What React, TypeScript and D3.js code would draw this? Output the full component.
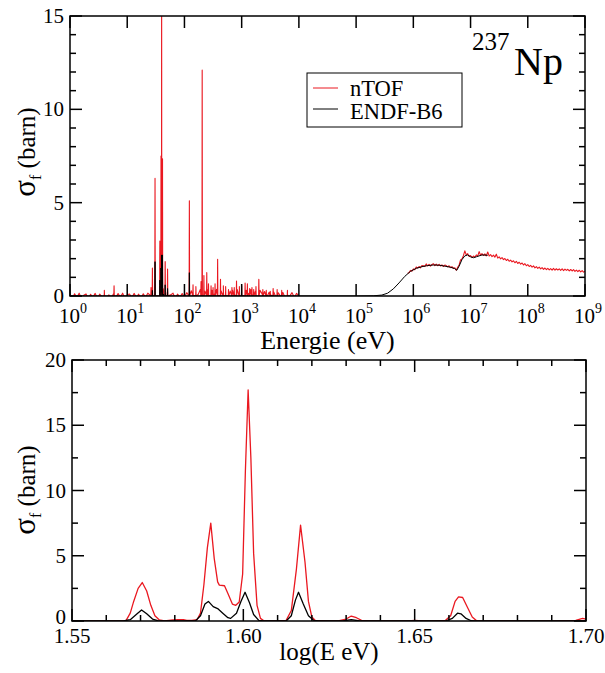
import React from "react";
import * as d3 from "d3";

const W = 605;
const H = 673;
const FONT = "'Liberation Serif', 'Times New Roman', serif";
const RED = "#ea1820";

// ---------- Tick definitions ----------
const topXExponents = [0, 1, 2, 3, 4, 5, 6, 7, 8, 9];
const topYMajor = [0, 5, 10, 15];
const topYMinor = [1, 2, 3, 4, 6, 7, 8, 9, 11, 12, 13, 14];
const botXMajor = [1.55, 1.6, 1.65, 1.7];
const botXMinor = [1.56, 1.57, 1.58, 1.59, 1.61, 1.62, 1.63, 1.64, 1.66, 1.67, 1.68, 1.69];
const botYMajor = [0, 5, 10, 15, 20];
const botYMinor = [2.5, 7.5, 12.5, 17.5];
const botXLabels = ["1.55", "1.60", "1.65", "1.70"];

// ---------- Data (log10 E in eV, sigma_f in barn) ----------
// nTOF noisy baseline from 10^0 to 10^4, one value every 0.04 in log10(E)
const ntofNoiseLow = [
  0.08, -0.15, 0.12, -0.08, 0.15, -0.13, 0.04, 0.11, -0.14, 0.09,
  -0.07, 0.14, -0.13, 0.1, -0.05, 0.16, -0.11, 0.06, -0.15, 0.12,
  -0.09, 0.13, -0.06, 0.15, -0.14, 0.07, 0.11, -0.1, 0.14, -0.08,
  0.1, -0.14, 0.12, -0.07, 0.15, -0.11, 0.09, -0.05, 0.13, -0.12,
  0.08, -0.09, 0.14, -0.11, 0.06, 0.15, -0.13, 0.1, -0.07, 0.13,
  -0.06, 0.18, 0.0, 0.28, 0.04, 0.32, 0.08, 0.36, 0.05, 0.26,
  0.34, 0.02, 0.3, 0.1, 0.36, 0.03, 0.28, 0.14, 0.33, 0.0,
  0.26, 0.32, 0.05, 0.36, 0.1, 0.28, 0.02, 0.31, 0.14, 0.34,
  0.06, 0.26, -0.02, 0.3, 0.1, 0.24, -0.05, 0.2, 0.04, 0.22,
  -0.08, 0.17, -0.02, 0.19, -0.1, 0.15, 0.0, 0.18, -0.08, 0.14, 0.0,
];
const noiseStartLog = 0;
const noiseStepLog = 0.04;

// nTOF isolated resonances in the top panel [log10 E, peak sigma]
const ntofResonances: [number, number][] = [
  [0.6, 0.3], [0.77, 0.55], [1.416, 0.45], [1.44, 1.5], [1.486, 6.3], [1.705, 1.45],
  [2.086, 5.1], [2.15, 0.6], [2.2, 0.5], [2.29, 0.77], [2.31, 12.1], [2.34, 1.1],
  [2.39, 1.25], [2.42, 0.65], [2.465, 0.55], [2.5, 0.45], [2.535, 0.65], [2.58, 1.97],
  [2.63, 0.9], [2.68, 0.55], [2.72, 0.5], [2.77, 0.35], [2.83, 0.45], [2.87, 0.45],
  [2.91, 0.8], [2.96, 0.5], [3.0, 0.55], [3.06, 0.7], [3.1, 0.65], [3.14, 0.4],
  [3.18, 0.45], [3.21, 0.35], [3.25, 0.5], [3.3, 0.9], [3.37, 0.35], [3.43, 0.3],
  [3.5, 0.25], [3.55, 0.4], [3.62, 0.35], [3.7, 0.3], [3.8, 0.3],
];

// ENDF-B6 isolated resonances in the top panel
const endfResonances: [number, number][] = [
  [1.44, 0.3], [1.486, 1.84], [1.705, 0.4], [2.086, 1.25],
];

// nTOF high-energy region, one value every 0.025 in log10(E) from 5.90 to 9.00
const ntofHigh = [
  1.22, 1.25, 1.37, 1.33, 1.45, 1.41, 1.55, 1.5, 1.58, 1.51,
  1.63, 1.62, 1.58, 1.72, 1.61, 1.69, 1.6, 1.69, 1.73, 1.63,
  1.71, 1.62, 1.7, 1.61, 1.67, 1.58, 1.66, 1.63, 1.56, 1.62,
  1.52, 1.57, 1.48, 1.51, 1.38, 1.54, 1.66, 1.93, 1.99, 2.16,
  2.42, 2.2, 2.27, 2.12, 2.17, 2.06, 2.14, 2.08, 2.2, 2.14,
  2.38, 2.18, 2.27, 2.17, 2.26, 2.15, 2.36, 2.14, 2.22, 2.11,
  2.19, 2.08, 2.24, 2.03, 2.1, 1.99, 2.06, 1.95, 2.01, 1.9,
  1.97, 1.86, 1.92, 1.83, 1.89, 1.78, 1.86, 1.74, 1.81, 1.71,
  1.77, 1.66, 1.73, 1.62, 1.68, 1.58, 1.64, 1.55, 1.61, 1.51,
  1.57, 1.48, 1.55, 1.45, 1.52, 1.43, 1.5, 1.41, 1.48, 1.4,
  1.47, 1.39, 1.48, 1.38, 1.46, 1.39, 1.45, 1.37, 1.46, 1.36,
  1.44, 1.37, 1.43, 1.35, 1.42, 1.34, 1.41, 1.32, 1.39, 1.31,
  1.38, 1.29, 1.36, 1.28, 1.33,
];
const highStartLog = 5.9;
const highStepLog = 0.025;

// ENDF-B6 smooth high-energy cross section
const endfHighLog = [4.0, 5.0, 5.3, 5.45, 5.55, 5.65, 5.75, 5.85, 5.95, 6.05, 6.15, 6.25, 6.35, 6.45, 6.55, 6.65, 6.72, 6.76, 6.8, 6.85, 6.9, 6.95, 7.0, 7.05, 7.1, 7.2, 7.3];
const endfHighSigma = [0, 0, 0.01, 0.05, 0.15, 0.38, 0.7, 1.05, 1.32, 1.48, 1.57, 1.63, 1.66, 1.65, 1.6, 1.54, 1.47, 1.38, 1.6, 1.95, 2.15, 2.2, 2.1, 2.05, 2.1, 2.2, 2.18];

// Zoom region (bottom panel): nTOF
const ntofZoomLog = [
  1.55, 1.565, 1.5658, 1.567, 1.568, 1.5693, 1.5705, 1.5718, 1.573, 1.5742, 1.5755, 1.577,
  1.5795, 1.581, 1.5825, 1.5835, 1.585, 1.5865, 1.5875, 1.5885, 1.5895, 1.5905, 1.5915,
  1.5925, 1.593, 1.5945, 1.5955, 1.5968, 1.5978, 1.5988, 1.5998, 1.6006, 1.6014, 1.6022,
  1.603, 1.604, 1.605, 1.606, 1.61, 1.6125, 1.614, 1.6155, 1.6167, 1.618, 1.619, 1.62,
  1.621, 1.625, 1.628, 1.63, 1.6315, 1.633, 1.6345, 1.637, 1.648, 1.65, 1.6525, 1.656,
  1.659, 1.6605, 1.6618, 1.6628, 1.664, 1.6655, 1.6668, 1.668, 1.672, 1.69, 1.694, 1.697,
  1.699, 1.7,
];
const ntofZoomSigma = [
  0, 0, 0.05, 0.6, 1.5, 2.5, 2.95, 2.3, 1.2, 0.4, 0.08, 0,
  0.08, 0.1, 0.1, 0.05, 0.04, 0.1, 0.6, 2.8, 5.6, 7.5, 4.8,
  3.0, 2.75, 2.7, 2.1, 1.3, 1.2, 1.45, 3.6, 11.5, 17.7, 12.5,
  5.2, 1.2, 0.2, 0.02, 0, 0.05, 0.8, 4.0, 7.35, 4.5, 1.5, 0.3,
  0.05, 0, 0.02, 0.15, 0.38, 0.25, 0.05, 0, 0, 0.05, 0, 0,
  0.05, 0.4, 1.5, 1.85, 1.8, 1.0, 0.3, 0.03, 0, 0, 0.03, 0.05,
  0.2, 0.15,
];

// Zoom region (bottom panel): ENDF-B6
const endfZoomLog = [
  1.55, 1.565, 1.567, 1.569, 1.5703, 1.5718, 1.5735, 1.575, 1.586, 1.5875, 1.5888, 1.5898,
  1.5912, 1.5925, 1.594, 1.5955, 1.5963, 1.598, 1.5993, 1.6005, 1.6018, 1.603, 1.6045,
  1.606, 1.6125, 1.614, 1.6152, 1.6161, 1.6175, 1.619, 1.6205, 1.622, 1.629, 1.6315,
  1.634, 1.659, 1.661, 1.6625, 1.6635, 1.665, 1.6665, 1.668, 1.7,
];
const endfZoomSigma = [
  0, 0, 0.1, 0.55, 0.85, 0.55, 0.15, 0.02, 0, 0.4, 1.3, 1.5,
  1.1, 0.95, 0.6, 0.25, 0.2, 0.6, 1.5, 2.2, 1.4, 0.5, 0.05,
  0, 0, 0.4, 1.6, 2.2, 1.3, 0.4, 0.05, 0, 0, 0.1,
  0, 0, 0.2, 0.6, 0.55, 0.2, 0.02, 0, 0,
];

// ---------- Series assembly ----------
type P = [number, number];
const SPIKE_HALF = 0.004;

function spikePoints(list: [number, number][]): P[] {
  const out: P[] = [];
  list.forEach(([x, y]) => {
    out.push([x - SPIKE_HALF, 0], [x, y], [x + SPIKE_HALF, 0]);
  });
  return out;
}

const zoomNtof: P[] = ntofZoomLog.map((x, i) => [x, ntofZoomSigma[i]]);
const zoomEndf: P[] = endfZoomLog.map((x, i) => [x, endfZoomSigma[i]]);

const ntofTopLow: P[] = [
  ...ntofNoiseLow
    .map((v, i) => [noiseStartLog + i * noiseStepLog, v] as P)
    .filter(([x]) => x < 1.4 || x > 1.72),
  ...spikePoints(ntofResonances),
  ...zoomNtof,
].sort((a, b) => a[0] - b[0]);

const ntofTopHigh: P[] = ntofHigh.map((v, i) => [highStartLog + i * highStepLog, v]);

const endfTop: P[] = [
  [0, 0] as P,
  ...spikePoints(endfResonances),
  ...zoomEndf,
  ...endfHighLog.map((x, i) => [x, endfHighSigma[i]] as P),
].sort((a, b) => a[0] - b[0]);

// ---------- Layout ----------
const top = { x0: 70, x1: 585, y0: 16, y1: 296 };
const bot = { x0: 72, x1: 586, y0: 360, y1: 621 };

const xTop = d3.scaleLog().domain([1, 1e9]).range([top.x0, top.x1]);
const yTop = d3.scaleLinear().domain([0, 15]).range([top.y1, top.y0]);
const xBot = d3.scaleLinear().domain([1.55, 1.7]).range([bot.x0, bot.x1]);
const yBot = d3.scaleLinear().domain([0, 20]).range([bot.y1, bot.y0]);

const lineTop = d3
  .line<P>()
  .x((d) => xTop(Math.pow(10, d[0])))
  .y((d) => yTop(d[1]));
const lineBot = d3
  .line<P>()
  .x((d) => xBot(d[0]))
  .y((d) => yBot(d[1]));

const MAJ = 12;
const MIN = 6;

function YLabel({ x, y }: { x: number; y: number }) {
  return (
    <text transform={`translate(${x},${y}) rotate(-90)`} textAnchor="middle" fontFamily={FONT} fill="#000">
      <tspan fontSize={31}>σ</tspan>
      <tspan fontSize={16} dy={6}>f</tspan>
      <tspan fontSize={25} dy={-6}> (barn)</tspan>
    </text>
  );
}

export default function App() {
  return (
    <svg width={W} height={H} style={{ position: "absolute", left: 0, top: 0, background: "#fff" }}>
      <defs>
        <clipPath id="clipTop">
          <rect x={top.x0} y={top.y0} width={top.x1 - top.x0} height={top.y1 - top.y0} />
        </clipPath>
        <clipPath id="clipBot">
          <rect x={bot.x0} y={bot.y0} width={bot.x1 - bot.x0} height={bot.y1 - bot.y0} />
        </clipPath>
      </defs>
      <rect x={0} y={0} width={W} height={H} fill="#fff" />

      {/* ===== Top panel ===== */}
      <g clipPath="url(#clipTop)" fill="none" strokeLinejoin="round">
        <path d={lineTop(ntofTopLow) || ""} stroke={RED} strokeWidth={1.1} />
        <path d={lineTop(ntofTopHigh) || ""} stroke={RED} strokeWidth={1.1} />
        <path d={lineTop(endfTop) || ""} stroke="#000" strokeWidth={1} />
      </g>
      <g stroke="#000" strokeWidth={1.5}>
        {topXExponents.map((e) => {
          const x = xTop(Math.pow(10, e));
          return (
            <g key={`tx${e}`}>
              <line x1={x} x2={x} y1={top.y1} y2={top.y1 - MAJ} />
              <line x1={x} x2={x} y1={top.y0} y2={top.y0 + MAJ} />
            </g>
          );
        })}
        {topYMajor.map((v) => (
          <g key={`tyM${v}`}>
            <line x1={top.x0} x2={top.x0 + MAJ} y1={yTop(v)} y2={yTop(v)} />
            <line x1={top.x1} x2={top.x1 - MAJ} y1={yTop(v)} y2={yTop(v)} />
          </g>
        ))}
        {topYMinor.map((v) => (
          <g key={`tym${v}`}>
            <line x1={top.x0} x2={top.x0 + MIN} y1={yTop(v)} y2={yTop(v)} />
            <line x1={top.x1} x2={top.x1 - MIN} y1={yTop(v)} y2={yTop(v)} />
          </g>
        ))}
        <rect x={top.x0} y={top.y0} width={top.x1 - top.x0} height={top.y1 - top.y0} fill="none" />
      </g>
      <g fontFamily={FONT} fill="#000">
        {topXExponents.map((e) => (
          <text key={`txl${e}`} x={xTop(Math.pow(10, e)) + 3} y={323} textAnchor="middle" fontSize={21}>
            10<tspan fontSize={14} dy={-10}>{e}</tspan>
          </text>
        ))}
        {topYMajor.map((v) => (
          <text key={`tyl${v}`} x={top.x0 - 6} y={Math.max(yTop(v), 9)} textAnchor="end" dominantBaseline="central" fontSize={21}>
            {v}
          </text>
        ))}
        <text x={(top.x0 + top.x1) / 2} y={349} textAnchor="middle" fontSize={26}>
          Energie (eV)
        </text>
        <YLabel x={35} y={152} />
        <text x={472} y={50} fontSize={25}>237</text>
        <text x={514} y={75} fontSize={40}>Np</text>
      </g>

      {/* Legend */}
      <g>
        <rect x={307} y={73} width={155} height={54} fill="#fff" stroke="#000" strokeWidth={1} />
        <line x1={313} x2={338} y1={88} y2={88} stroke={RED} strokeWidth={1} />
        <line x1={313} x2={338} y1={109} y2={109} stroke="#000" strokeWidth={1} />
        <text x={350} y={96} fontFamily={FONT} fontSize={22.5}>nTOF</text>
        <text x={350} y={119} fontFamily={FONT} fontSize={22.5}>ENDF-B6</text>
      </g>

      {/* ===== Bottom panel ===== */}
      <g clipPath="url(#clipBot)" fill="none" strokeLinejoin="round">
        <path d={lineBot(zoomNtof) || ""} stroke={RED} strokeWidth={1.3} />
        <path d={lineBot(zoomEndf) || ""} stroke="#000" strokeWidth={1.3} />
      </g>
      <g stroke="#000" strokeWidth={1.5}>
        {botXMajor.map((v) => (
          <g key={`bxM${v}`}>
            <line x1={xBot(v)} x2={xBot(v)} y1={bot.y1} y2={bot.y1 - MAJ} />
            <line x1={xBot(v)} x2={xBot(v)} y1={bot.y0} y2={bot.y0 + MAJ} />
          </g>
        ))}
        {botXMinor.map((v) => (
          <g key={`bxm${v}`}>
            <line x1={xBot(v)} x2={xBot(v)} y1={bot.y1} y2={bot.y1 - MIN} />
            <line x1={xBot(v)} x2={xBot(v)} y1={bot.y0} y2={bot.y0 + MIN} />
          </g>
        ))}
        {botYMajor.map((v) => (
          <g key={`byM${v}`}>
            <line x1={bot.x0} x2={bot.x0 + MAJ} y1={yBot(v)} y2={yBot(v)} />
            <line x1={bot.x1} x2={bot.x1 - MAJ} y1={yBot(v)} y2={yBot(v)} />
          </g>
        ))}
        {botYMinor.map((v) => (
          <g key={`bym${v}`}>
            <line x1={bot.x0} x2={bot.x0 + MIN} y1={yBot(v)} y2={yBot(v)} />
            <line x1={bot.x1} x2={bot.x1 - MIN} y1={yBot(v)} y2={yBot(v)} />
          </g>
        ))}
        <rect x={bot.x0} y={bot.y0} width={bot.x1 - bot.x0} height={bot.y1 - bot.y0} fill="none" />
      </g>
      <g fontFamily={FONT} fill="#000">
        {botXMajor.map((v, i) => (
          <text key={`bxl${v}`} x={xBot(v)} y={643} textAnchor="middle" fontSize={21}>
            {botXLabels[i]}
          </text>
        ))}
        {botYMajor.map((v) => (
          <text key={`byl${v}`} x={bot.x0 - 6} y={Math.min(yBot(v), 617)} textAnchor="end" dominantBaseline="central" fontSize={21}>
            {v}
          </text>
        ))}
        <text x={(bot.x0 + bot.x1) / 2} y={660} textAnchor="middle" fontSize={25}>
          log(E eV)
        </text>
        <YLabel x={35} y={490} />
      </g>
    </svg>
  );
}
